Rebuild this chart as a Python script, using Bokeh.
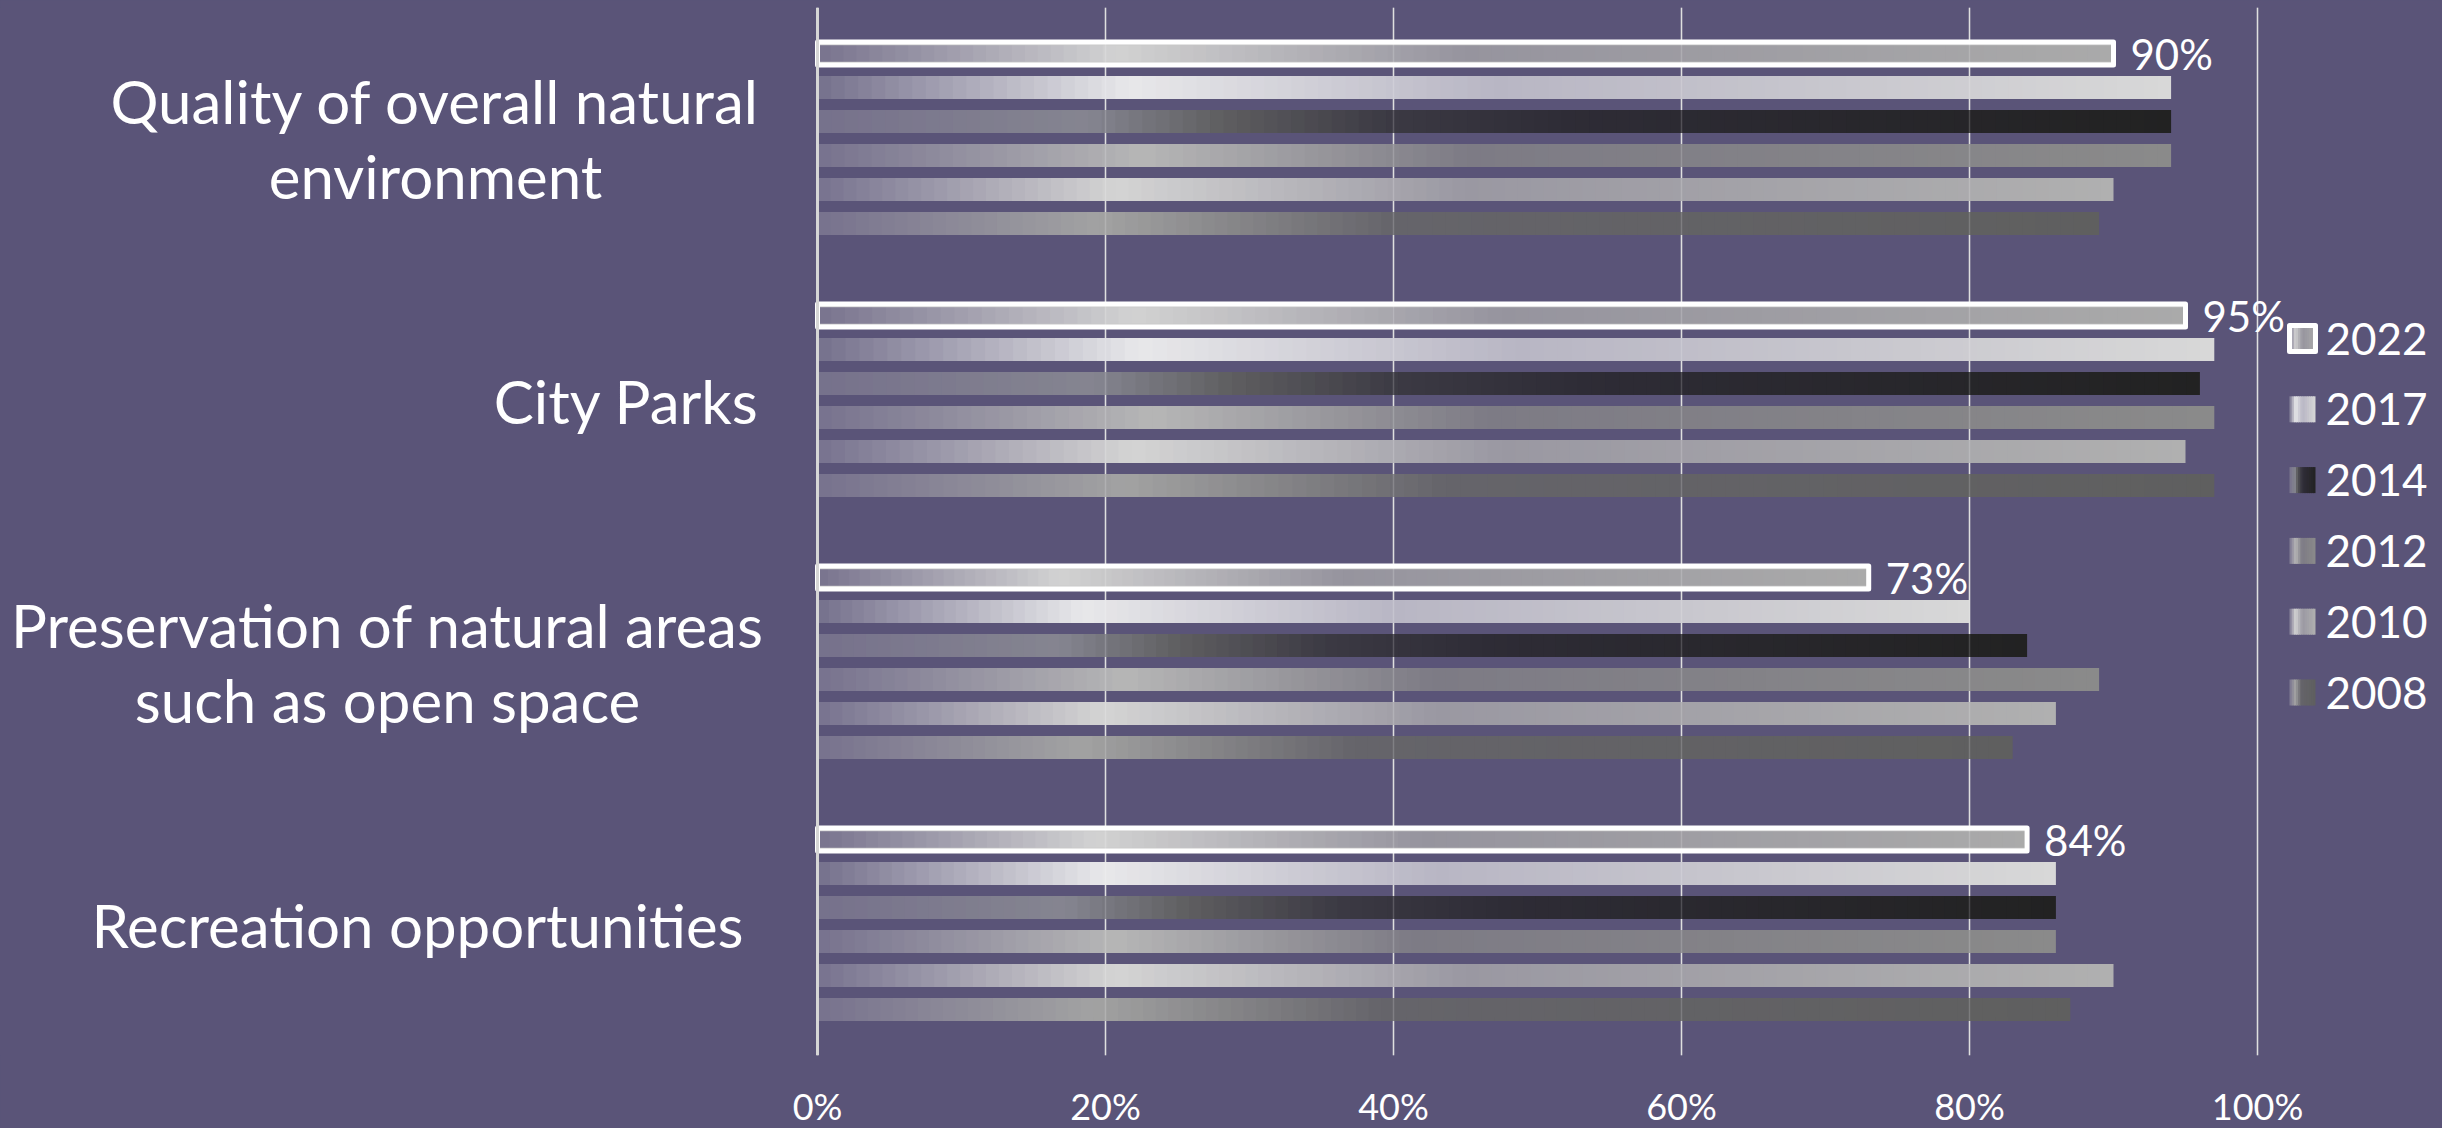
import numpy as np
from bokeh.plotting import figure
from bokeh.models import ColumnDataSource, Range1d, FixedTicker, Span, Grid
from bokeh.core.properties import value
from bokeh.embed import file_html
from bokeh.resources import INLINE

# ---------------- data ----------------
categories = ["Quality of overall natural\nenvironment",
              "City Parks",
              "Preservation of natural areas\nsuch as open space",
              "Recreation opportunities"]
years = ["2022", "2017", "2014", "2012", "2010", "2008"]
v2022 = [90, 95, 73, 84]
v2017 = [94, 97, 80, 86]
v2014 = [94, 96, 84, 86]
v2012 = [94, 97, 89, 86]
v2010 = [90, 95, 86, 90]
v2008 = [89, 97, 83, 87]
series = [v2022, v2017, v2014, v2012, v2010, v2008]
x_ticks = [0, 20, 40, 60, 80, 100]
x_tick_labels = ["0%", "20%", "40%", "60%", "80%", "100%"]

# ---------------- style ----------------
BG = "#5a5478"
FONT = "Lato"
# gradient stops (fraction along the bar, colour) per series
stops = {
    "2022": [(0, "#78738e"), (0.23, "#d2d2d2"), (0.5, "#96949e"), (1.0, "#aaaaaa")],
    "2017": [(0, "#74708c"), (0.23, "#e8e8ea"), (0.5, "#b8b6c4"), (1.0, "#d8d8d8")],
    "2014": [(0, "#76718c"), (0.2, "#858590"), (0.3, "#5e5e60"), (0.42, "#3c3a44"),
             (0.55, "#2e2c36"), (1.0, "#222222")],
    "2012": [(0, "#77728e"), (0.24, "#b6b6b6"), (0.48, "#7d7b85"), (1.0, "#8a8a8a")],
    "2010": [(0, "#77728e"), (0.23, "#d4d4d4"), (0.5, "#9a98a2"), (1.0, "#b0b0b0")],
    "2008": [(0, "#77728e"), (0.22, "#a2a2a2"), (0.45, "#65646a"), (1.0, "#5f5f5f")],
}


def hex2rgb(h):
    h = h.lstrip("#")
    return np.array([int(h[i:i + 2], 16) for i in (0, 2, 4)], dtype=float)


def grad_color(year, f):
    st = stops[year]
    for (f0, c0), (f1, c1) in zip(st[:-1], st[1:]):
        if f <= f1:
            t = 0 if f1 == f0 else (f - f0) / (f1 - f0)
            c = hex2rgb(c0) * (1 - t) + hex2rgb(c1) * t
            return "#%02x%02x%02x" % tuple(int(round(x)) for x in c)
    return st[-1][1]


# layout (pixels -> data units)
W, H = 2442, 1128
X0_PX = 817               # screen x of 0 %
PX_PER_UNIT_X = 14.4      # 1440 px for 100 %
TOP_PX = 7
BAND_PX = 262.0           # one category band
FRAME_H = 4 * 262
PITCH = 34 / BAND_PX      # distance between bars of one category
BAR_H = 23 / BAND_PX
N_SEG = 100


def sx(px):
    return (px - X0_PX) / PX_PER_UNIT_X


def sy(px):
    return (px - TOP_PX) / BAND_PX


p = figure(frame_width=W, frame_height=FRAME_H,
           x_range=Range1d(sx(0), sx(W)),
           y_range=Range1d(4, 0),
           output_backend="svg", toolbar_location=None,
           y_axis_location=None,
           background_fill_color=BG, border_fill_color=BG,
           min_border_left=0, min_border_right=0, min_border_top=TOP_PX,
           min_border_bottom=H - TOP_PX - FRAME_H)
p.styles = {"background-color": BG}
p.outline_line_color = None

# grid (under bars) and x axis
p.xaxis.ticker = FixedTicker(ticks=x_ticks)
p.xaxis.major_label_overrides = {t: l for t, l in zip(x_ticks, x_tick_labels)}
p.xaxis.axis_line_color = None
p.xaxis.major_tick_line_color = None
p.xaxis.minor_tick_line_color = None
p.xaxis.major_label_text_color = "white"
p.xaxis.major_label_text_font = FONT
p.xaxis.major_label_text_font_size = "36px"
p.xaxis.major_label_standoff = 22
p.xgrid.ticker = FixedTicker(ticks=x_ticks)
p.xgrid.grid_line_color = "#d8d8d8"
p.xgrid.grid_line_width = 1.5
p.ygrid.grid_line_color = None

# ---------------- gradient bars ----------------
seg = dict(y=[], left=[], right=[], color=[])
for j, (yr, vals) in enumerate(zip(years, series)):
    for i, v in enumerate(vals):
        yc = i + 0.5 + (j - 2.5) * PITCH
        for k in range(N_SEG):
            l = v * k / N_SEG
            r = min(v * (k + 1) / N_SEG + 0.1, v)
            seg["y"].append(yc)
            seg["left"].append(l)
            seg["right"].append(r)
            seg["color"].append(grad_color(yr, (k + 0.5) / N_SEG))
p.hbar(y="y", left="left", right="right", height=BAR_H, fill_color="color",
       line_color=None, source=ColumnDataSource(seg))

# outline of the 2022 bars
y2022 = [i + 0.5 - 2.5 * PITCH for i in range(len(categories))]
p.hbar(y=y2022, left=0, right=v2022, height=BAR_H - 5 / BAND_PX, fill_color=None,
       line_color="#c8c8c8", line_width=1.5)
p.hbar(y=y2022, left=0, right=v2022, height=BAR_H, fill_color=None,
       line_color="white", line_width=5, line_join="round")

# faint grid lines over the bars
p.add_layout(Grid(dimension=0, ticker=FixedTicker(ticks=x_ticks[1:]),
                  grid_line_color="white", grid_line_alpha=0.18,
                  grid_line_width=1.5, level="overlay"))
# vertical axis line at 0
p.add_layout(Span(location=0, dimension="height", line_color="#d6d6d6",
                  line_width=3, level="overlay"))

# value labels for 2022
p.text(x=[v + 17 / PX_PER_UNIT_X for v in v2022], y=y2022,
       text=[f"{v}%" for v in v2022], text_color="white",
       text_font=value(FONT), text_font_size="42px",
       text_align="left", text_baseline="middle")

# category labels (left side)
label_cx = [sx(435), sx(626), sx(387), sx(417)]
p.text(x=label_cx, y=[i + 0.5 for i in range(len(categories))], text=categories,
       text_color="white", text_font=value(FONT), text_font_size="60px",
       text_align="center", text_baseline="middle", text_line_height=1.04)

# ---------------- legend ----------------
LEG_L, LEG_R = sx(2289), sx(2315)
LEG_TOP = sy(338)
LEG_STEP = 70.8 / BAND_PX
LEG_H = 26 / BAND_PX
lseg = dict(y=[], left=[], right=[], color=[])
NL = 12
for j, yr in enumerate(years):
    yc = LEG_TOP + j * LEG_STEP
    for k in range(NL):
        l = LEG_L + (LEG_R - LEG_L) * k / NL
        r = min(LEG_L + (LEG_R - LEG_L) * (k + 1) / NL + 0.05, LEG_R)
        lseg["y"].append(yc)
        lseg["left"].append(l)
        lseg["right"].append(r)
        lseg["color"].append(grad_color(yr, (k + 0.5) / NL))
p.hbar(y="y", left="left", right="right", height=LEG_H, fill_color="color",
       line_color=None, source=ColumnDataSource(lseg))
p.hbar(y=[LEG_TOP], left=LEG_L, right=LEG_R, height=LEG_H, fill_color=None,
       line_color="white", line_width=5, line_join="round")
p.text(x=[sx(2325)] * len(years),
       y=[LEG_TOP + j * LEG_STEP for j in range(len(years))],
       text=years, text_color="white", text_font=value(FONT),
       text_font_size="44px", text_align="left", text_baseline="middle")

open("out.html", "w").write(file_html(p, INLINE))
